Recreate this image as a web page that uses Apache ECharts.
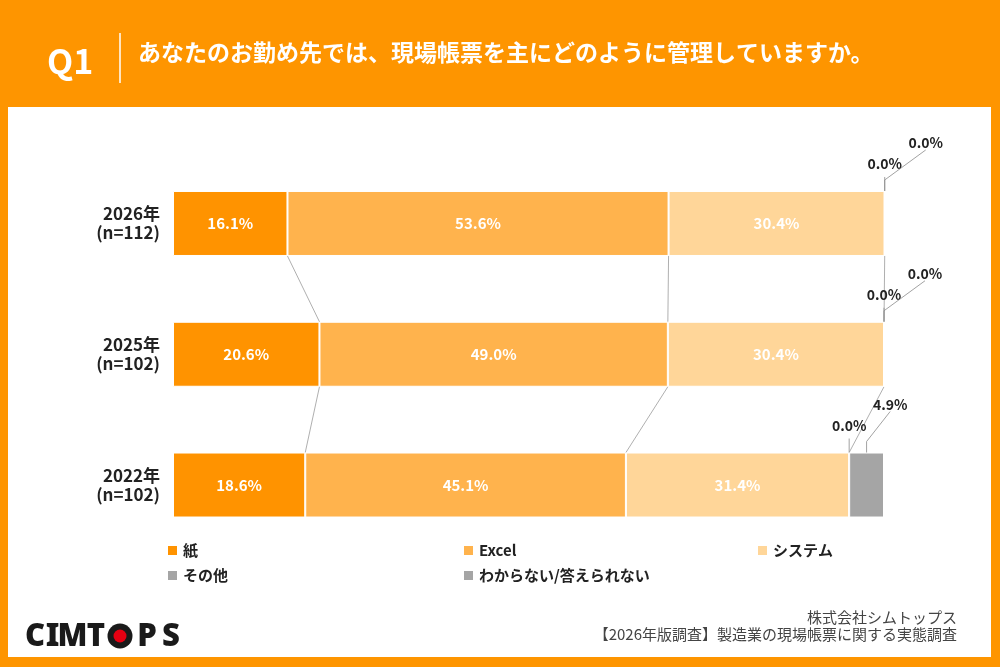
<!DOCTYPE html>
<html><head><meta charset="utf-8">
<script src="https://cdn.jsdelivr.net/npm/echarts@6/dist/echarts.min.js"></script>
<style>html,body{margin:0;padding:0;background:#FE9500;}#c{width:1000px;height:667px;}</style>
</head><body><div id="c"></div>
<script>
// ---- data ----
const categories = ['2026年\n(n=112)', '2025年\n(n=102)', '2022年\n(n=102)'];
const seriesNames = ['紙', 'Excel', 'システム', 'その他', 'わからない/答えられない'];
const paper = [16.1, 20.6, 18.6];
const excel = [53.6, 49.0, 45.1];
const system = [30.4, 30.4, 31.4];
const other = [0.0, 0.0, 0.0];
const unknown = [0.0, 0.0, 4.9];
const values = [paper, excel, system, other, unknown];

// ---- styles ----
const FONT = "'Noto Sans CJK JP', 'Noto Sans', sans-serif";
const colors = ['#FF9300', '#FFB34D', '#FFD699', '#A5A5A5', '#A5A5A5'];
const BAR_W = 65;
const fmt = v => v.toFixed(1) + '%';

// cumulative positions
const cum = categories.map((_, r) => {
  const arr = [0];
  values.forEach((s, k) => arr.push(arr[k] + s[r]));
  return arr;
});

// connector lines between consecutive bars at the first 3 boundaries
const connectorData = [];
for (let r = 0; r < categories.length - 1; r++) {
  for (let k = 1; k <= 3; k++) {
    connectorData.push([cum[r][k], r, cum[r + 1][k], r + 1]);
  }
}
// small outside labels for その他 / わからない
const smallData = categories.map((_, r) => [
  cum[r][3] + other[r] / 2,
  cum[r][4] + unknown[r] / 2,
  r
]);

const barSeries = seriesNames.map((name, k) => ({
  name, type: 'bar', stack: 'total', barWidth: BAR_W,
  data: values[k],
  itemStyle: { color: colors[k], borderColor: '#fff', borderWidth: 1 },
  label: {
    show: k < 3, position: 'inside', color: '#fff', fontWeight: 'bold',
    fontSize: 15, fontFamily: FONT, formatter: p => fmt(p.value)
  },
  emphasis: { disabled: true },
  silent: true
}));

const txt = (x, y, text, font, fill, align, vAlign) => ({
  type: 'text', x, y,
  style: { text, font, fill, align, verticalAlign: vAlign, textAlign: align, textVerticalAlign: vAlign }
});
const LOGO = '900 31px "Noto Sans", Roboto, sans-serif';

const option = {
  backgroundColor: '#FE9500',
  animation: false,
  textStyle: { fontFamily: FONT },
  grid: { left: 173, right: 116, top: 158.1, bottom: 116.6, containLabel: false },
  xAxis: { type: 'value', min: 0, max: 100, show: false },
  yAxis: {
    type: 'category', data: categories, inverse: true,
    axisLine: { show: false }, axisTick: { show: false }, splitLine: { show: false },
    axisLabel: { fontSize: 17, fontWeight: 'bold', color: '#222', lineHeight: 19, align: 'right', margin: 13, fontFamily: FONT }
  },
  legend: [
    { data: ['紙', 'その他'], left: 166 },
    { data: ['Excel', 'わからない/答えられない'], left: 462 },
    { data: ['システム'], left: 756 }
  ].map(l => Object.assign({
    orient: 'vertical', top: 543, padding: 0, itemWidth: 11, itemHeight: 11, itemGap: 10,
    icon: 'rect', selectedMode: false,
    textStyle: { fontSize: 15, fontWeight: 'bold', color: '#222', fontFamily: FONT }
  }, l)),
  graphic: [
    { type: 'rect', shape: { x: 8, y: 107, width: 983, height: 550 }, style: { fill: '#fff' }, z: -10 },
    txt(47, 61, 'Q1', 'bold 34px ' + FONT, '#fff', 'left', 'middle'),
    { type: 'line', shape: { x1: 120, y1: 33, x2: 120, y2: 83 }, style: { stroke: '#fff', lineWidth: 1.5 } },
    txt(138, 52, 'あなたのお勤め先では、現場帳票を主にどのように管理していますか。', 'bold 23px ' + FONT, '#fff', 'left', 'middle'),
    txt(957, 617, '株式会社シムトップス', '15px ' + FONT, '#444', 'right', 'middle'),
    txt(957, 634, '【2026年版調査】製造業の現場帳票に関する実態調査', '15px ' + FONT, '#444', 'right', 'middle'),
    txt(35, 637, 'C', LOGO, '#1a1a1a', 'center', 'middle'),
    txt(52.5, 637, 'I', LOGO, '#1a1a1a', 'center', 'middle'),
    txt(72.5, 637, 'M', LOGO, '#1a1a1a', 'center', 'middle'),
    txt(96, 637, 'T', LOGO, '#1a1a1a', 'center', 'middle'),
    { type: 'circle', shape: { cx: 120, cy: 636, r: 12.5 }, style: { fill: '#1a1a1a' } },
    { type: 'circle', shape: { cx: 120, cy: 636, r: 6.5 }, style: { fill: '#E60012' } },
    txt(147, 637, 'P', LOGO, '#1a1a1a', 'center', 'middle'),
    txt(171, 637, 'S', LOGO, '#1a1a1a', 'center', 'middle')
  ],
  series: barSeries.concat([
    {
      type: 'custom', name: 'connectors', silent: true, clip: false, z: 1,
      encode: { x: [0, 2], y: [1, 3] },
      data: connectorData,
      renderItem: (params, api) => {
        const p1 = api.coord([api.value(0), api.value(1)]);
        const p2 = api.coord([api.value(2), api.value(3)]);
        const h = BAR_W / 2;
        return {
          type: 'line',
          shape: { x1: p1[0], y1: p1[1] + h, x2: p2[0], y2: p2[1] - h },
          style: { stroke: '#9b9b9b', lineWidth: 0.8 }
        };
      }
    },
    {
      type: 'custom', name: 'smallLabels', silent: true, clip: false, z: 5,
      encode: { x: [0, 1], y: 2 },
      data: smallData,
      renderItem: (params, api) => {
        const r = params.dataIndex;
        const po = api.coord([api.value(0), r]);
        const pu = api.coord([api.value(1), r]);
        const top = po[1] - BAR_W / 2;
        const ox = po[0], ux = pu[0];
        const lx = Math.max(ux + 23, ox + 41);
        const font = 'bold 14px ' + FONT;
        return {
          type: 'group',
          children: [
            { type: 'line', shape: { x1: ox, y1: top, x2: ox, y2: top - 14 }, style: { stroke: '#8a8a8a', lineWidth: 0.8 } },
            { type: 'text', x: ox, y: top - 20, style: { text: fmt(other[r]), font, fill: '#222', align: 'center', verticalAlign: 'bottom', textAlign: 'center', textVerticalAlign: 'bottom' } },
            { type: 'polyline', shape: { points: [[ux, top], [ux, top - 11], [lx, top - 41]] }, style: { stroke: '#8a8a8a', lineWidth: 0.8, fill: null } },
            { type: 'text', x: lx, y: top - 41, style: { text: fmt(unknown[r]), font, fill: '#222', align: 'center', verticalAlign: 'bottom', textAlign: 'center', textVerticalAlign: 'bottom' } }
          ]
        };
      }
    }
  ])
};

const chart = echarts.init(document.getElementById('c'), null, { renderer: 'canvas' });
chart.setOption(option);
</script>
</body></html>
